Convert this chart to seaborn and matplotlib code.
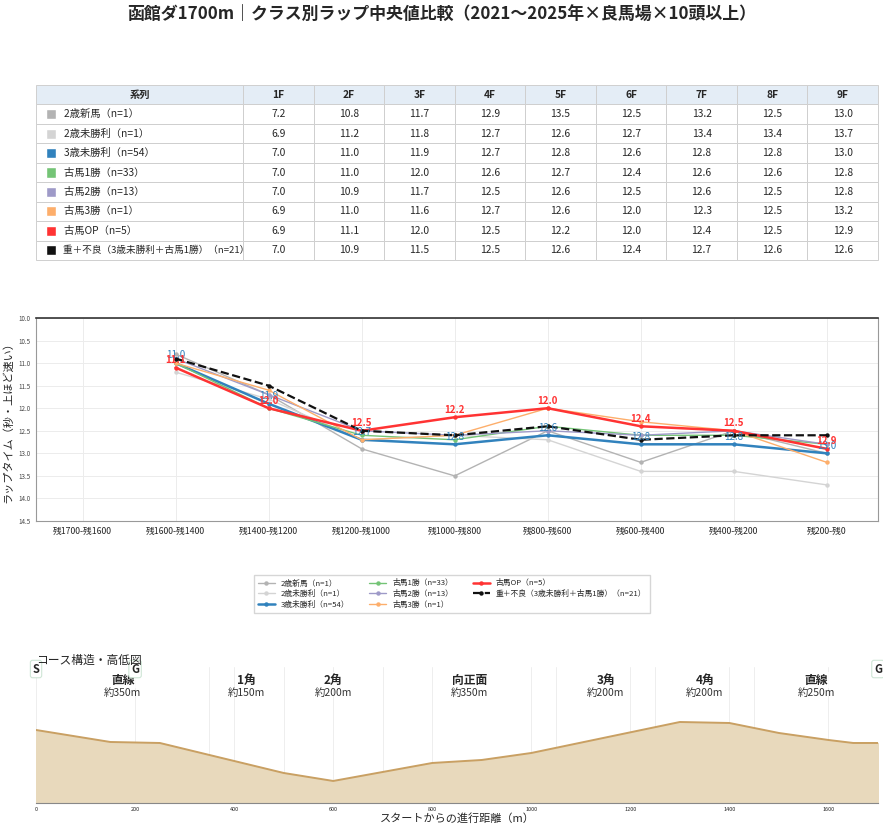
import numpy as np
import matplotlib
matplotlib.use('Agg')
import matplotlib.pyplot as plt
import seaborn as sns
from matplotlib.patches import Rectangle

sns.set_style('white')
plt.rcParams['font.family'] = ['Noto Sans CJK JP', 'DejaVu Sans']

######### data ########
furlongs = ['1F', '2F', '3F', '4F', '5F', '6F', '7F', '8F', '9F']
sections = ['残1700-残1600', '残1600-残1400', '残1400-残1200', '残1200-残1000', '残1000-残800',
            '残800-残600', '残600-残400', '残400-残200', '残200-残0']

series_names = ['2歳新馬（n=1）', '2歳未勝利（n=1）', '3歳未勝利（n=54）', '古馬1勝（n=33）',
                '古馬2勝（n=13）', '古馬3勝（n=1）', '古馬OP（n=5）', '重＋不良（3歳未勝利＋古馬1勝）（n=21）']
shinba    = [7.2, 10.8, 11.7, 12.9, 13.5, 12.5, 13.2, 12.5, 13.0]
miso2     = [6.9, 11.2, 11.8, 12.7, 12.6, 12.7, 13.4, 13.4, 13.7]
miso3     = [7.0, 11.0, 11.9, 12.7, 12.8, 12.6, 12.8, 12.8, 13.0]
win1      = [7.0, 11.0, 12.0, 12.6, 12.7, 12.4, 12.6, 12.6, 12.8]
win2      = [7.0, 10.9, 11.7, 12.5, 12.6, 12.5, 12.6, 12.5, 12.8]
win3      = [6.9, 11.0, 11.6, 12.7, 12.6, 12.0, 12.3, 12.5, 13.2]
open_cls  = [6.9, 11.1, 12.0, 12.5, 12.2, 12.0, 12.4, 12.5, 12.9]
heavy     = [7.0, 10.9, 11.5, 12.5, 12.6, 12.4, 12.7, 12.6, 12.6]
all_series = [shinba, miso2, miso3, win1, win2, win3, open_cls, heavy]

colors = ['#b3b3b3', '#d4d4d4', '#3182bd', '#74c476', '#9e9ac8', '#fdae6b', '#ff3333', '#111111']
widths = [1.0, 1.0, 1.8, 1.0, 1.0, 1.0, 1.8, 1.6]

# course profile
elev_x = [0, 150, 250, 500, 600, 800, 900, 1000, 1300, 1400, 1500, 1600, 1650, 1700]
elev_y = [3.65, 3.05, 3.0, 1.5, 1.1, 2.0, 2.15, 2.5, 4.05, 4.0, 3.5, 3.15, 3.0, 3.0]
sec_names = ['直線', '1角', '2角', '向正面', '3角', '4角', '直線']
sec_start = [0, 350, 500, 700, 1050, 1250, 1450]
sec_end = [350, 500, 700, 1050, 1250, 1450, 1700]
sec_len = ['約350m', '約150m', '約200m', '約350m', '約200m', '約200m', '約250m']
sg_marks = [('S', 0), ('G', 200), ('G', 1700)]

fig = plt.figure(figsize=(8.83, 8.32), dpi=100)
fig.suptitle('函館ダ1700m｜クラス別ラップ中央値比較（2021〜2025年×良馬場×10頭以上）',
             fontsize=12.2, fontweight='bold', y=0.993)

######### table ########
axt = fig.add_axes([0.0408, 0.6875, 0.9535, 0.2103])
axt.axis('off')
cell_text = [['        ' + n] + ['%.1f' % v for v in s] for n, s in zip(series_names, all_series)]
col_w = [207] + [70.5] * 9
col_w = [w / sum(col_w) for w in col_w]
tbl = axt.table(cellText=cell_text, colLabels=['系列'] + furlongs, colWidths=col_w,
                bbox=[0, 0, 1, 1], cellLoc='center')
tbl.auto_set_font_size(False)
tbl.set_fontsize(7.4)
for (r, c), cell in tbl.get_celld().items():
    cell.set_edgecolor('#cfcfcf')
    cell.set_linewidth(0.7)
    if r == 0:
        cell.set_facecolor('#e4edf6')
        cell.set_text_props(fontweight='bold')
    elif c == 0:
        cell.PAD = 0.05
        cell.set_text_props(ha='left')
        cell._loc = 'left'
        if r == len(series_names):
            cell.set_fontsize(6.9)
nrow = len(series_names) + 1
for i, col in enumerate(colors):
    y0 = 1 - (i + 1.5) / nrow
    axt.add_patch(Rectangle((0.0115, y0 - 0.029), 0.0122, 0.058, facecolor=col,
                            transform=axt.transAxes, clip_on=False))

######### lap chart ########
ax = fig.add_axes([0.0408, 0.3738, 0.9535, 0.2440])
xpos = np.arange(1, len(furlongs))
for name, s, col, lw in zip(series_names, all_series, colors, widths):
    sns.lineplot(x=xpos, y=s[1:], ax=ax, color=col, linewidth=lw, marker='o', markersize=3.2,
                 markeredgewidth=0, label=name, linestyle='--' if col == '#111111' else '-')
for x, v in zip(xpos, miso3[1:]):
    ax.annotate('%.1f' % v, (x, v), xytext=(0, 5.5), textcoords='offset points',
                ha='center', va='center', fontsize=7, color='#3182bd')
for x, v in zip(xpos, open_cls[1:]):
    ax.annotate('%.1f' % v, (x, v), xytext=(0, 5.5), textcoords='offset points',
                ha='center', va='center', fontsize=7, color='#ff3333', fontweight='bold')
ax.set_xlim(-0.5, 8.55)
ax.set_ylim(14.5, 10.0)
ax.set_yticks(np.arange(10.0, 14.51, 0.5))
ax.set_yticklabels(['%.1f' % t for t in np.arange(10.0, 14.51, 0.5)], fontsize=4.5, color='#444444')
ax.set_xticks(range(len(sections)))
ax.set_xticklabels(sections, fontsize=6.3)
ax.set_ylabel('ラップタイム（秒・上ほど速い）', fontsize=8)
ax.grid(True, color='#ececec', linewidth=0.7)
ax.tick_params(axis='both', length=2, pad=2)
for side, sp in ax.spines.items():
    sp.set_color('#999999')
    sp.set_linewidth(0.8)
ax.spines['top'].set_color('#333333')
ax.spines['top'].set_linewidth(1.2)
handles, labels = ax.get_legend_handles_labels()
ax.get_legend().remove()
fig.legend(handles, labels, loc='upper center', bbox_to_anchor=(0.512, 0.313), ncol=3,
           fontsize=5.6, frameon=True, edgecolor='#cccccc', fancybox=False,
           handlelength=2.2, columnspacing=2.5, labelspacing=0.35, borderpad=0.5)

######### course profile ########
axc = fig.add_axes([0.0408, 0.0349, 0.9535, 0.1634])
sns.lineplot(x=elev_x, y=elev_y, ax=axc, color='#c9a063', linewidth=1.4)
axc.fill_between(elev_x, elev_y, 0, color='#e8d9bc')
axc.set_xlim(0, 1700)
axc.set_ylim(0, 6.8)
axc.set_yticks([])
axc.set_xticks(range(0, 1700, 200))
axc.tick_params(axis='x', labelsize=4, length=0, pad=3)
axc.grid(True, axis='x', color='#eeeeee', linewidth=0.7)
for b in sec_start[1:]:
    axc.axvline(b, color='#eeeeee', linewidth=0.7, zorder=0)
for n, a, e, l in zip(sec_names, sec_start, sec_end, sec_len):
    cx = (a + e) / 2
    axc.text(cx, 6.15, n, ha='center', va='center', fontsize=8.5, fontweight='bold',
             bbox=dict(boxstyle='square,pad=0.1', facecolor='white', edgecolor='none', alpha=0.8))
    axc.text(cx, 5.5, l, ha='center', va='center', fontsize=7.5, color='#333333')
for lab, x in sg_marks:
    axc.text(x, 6.7, lab, ha='center', va='center', fontsize=8, fontweight='bold', clip_on=False,
             bbox=dict(boxstyle='round,pad=0.2', facecolor='white', edgecolor='#cfe6d6', linewidth=0.8))
for side in ['top', 'left', 'right']:
    axc.spines[side].set_visible(False)
axc.spines['bottom'].set_color('#888888')
axc.set_xlabel('スタートからの進行距離（m）', fontsize=8, labelpad=1)
axc.set_title('コース構造・高低図', loc='left', fontsize=8.5, pad=2)

fig.savefig('out.png', dpi=100)
